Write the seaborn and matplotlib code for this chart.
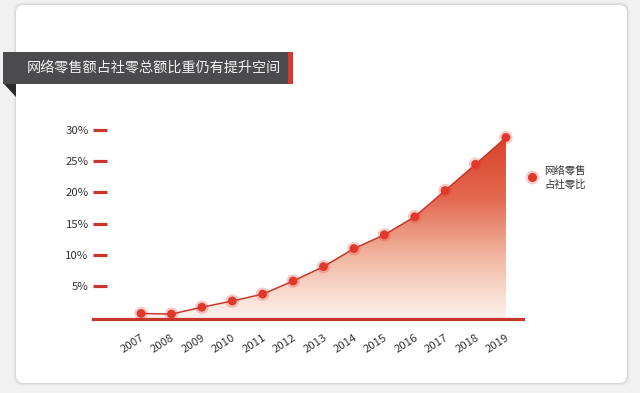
import matplotlib
matplotlib.use("Agg")
import matplotlib.pyplot as plt
import matplotlib.transforms as mtransforms
from matplotlib.patches import FancyBboxPatch, Rectangle, Polygon
from matplotlib.lines import Line2D
from matplotlib.colors import LinearSegmentedColormap
import numpy as np
import pandas as pd
import seaborn as sns

# data
years = ['2007', '2008', '2009', '2010', '2011', '2012', '2013',
         '2014', '2015', '2016', '2017', '2018', '2019']
share = [0.6, 0.5, 1.6, 2.6, 3.7, 5.8, 8.1, 11.0, 13.2, 16.1, 20.3, 24.5, 28.8]
ytick_vals = [5, 10, 15, 20, 25, 30]
ytick_labels = ['5%', '10%', '15%', '20%', '25%', '30%']
title = '网络零售额占社零总额比重仍有提升空间'
legend_label = '网络零售\n占社零比'

RED = '#e0392b'
DARK_RED = '#c9372c'
TEXT = '#333333'

sns.set_style("white")
plt.rcParams['font.family'] = ['Noto Sans CJK SC', 'DejaVu Sans']

W, H = 640, 393
fig = plt.figure(figsize=(W / 100, H / 100), dpi=100)
fig.patch.set_facecolor('#f1f1f1')
px = mtransforms.IdentityTransform()  # pixel coords, origin bottom-left

# card with soft shadow
for grow, alpha in [(3, 0.02), (2, 0.03), (1, 0.05)]:
    fig.patches.append(FancyBboxPatch(
        (16 - grow, H - 383 - grow), 611 + 2 * grow, 378 + 2 * grow,
        boxstyle="round,pad=0,rounding_size=9", transform=px,
        facecolor='#000000', edgecolor='none', alpha=alpha, zorder=-3))
fig.patches.append(FancyBboxPatch(
    (16, H - 383), 611, 378, boxstyle="round,pad=0,rounding_size=8",
    transform=px, facecolor='white', edgecolor='none', zorder=-2))

# title banner
fig.patches.append(Rectangle((3, H - 84), 286, 32, transform=px,
                             facecolor='#4b4b4d', edgecolor='none', zorder=-1))
fig.patches.append(Rectangle((288, H - 84), 5, 32, transform=px,
                             facecolor='#d9382c', edgecolor='none', zorder=-1))
fig.patches.append(Polygon([(4, H - 84), (16, H - 84), (16, H - 97)],
                           closed=True, transform=px,
                           facecolor='#2b2b2b', edgecolor='none', zorder=-1))
fig.text(27, H - 68, title, transform=px, color='#f2f2f2', fontsize=10.2,
         fontweight='medium', ha='left', va='center', zorder=3)

# main axes placed to match the reference
ax = fig.add_axes([93 / W, (H - 319) / H, 430 / W, (319 - 120) / H])
ax.set_zorder(2)
ax.set_facecolor('none')
x = np.arange(len(years))
df = pd.DataFrame({'x': x, 'share': share})

# gradient area under the line
cmap = LinearSegmentedColormap.from_list('fade', ['#fdf3ef', '#f2b9a3', '#e3684f', '#d9412c'])
poly = ax.fill_between(x, share, -0.29, facecolor='none', edgecolor='none')
grad = np.linspace(0, 1, 256).reshape(-1, 1)
img = ax.imshow(grad, cmap=cmap, aspect='auto', origin='lower',
                extent=[x[0], x[-1], -0.29, max(share)], zorder=1)
clip = Polygon(poly.get_paths()[0].vertices, closed=True, transform=ax.transData)
img.set_clip_path(clip)

sns.lineplot(data=df, x='x', y='share', color=DARK_RED, linewidth=1.1, ax=ax, zorder=3)
sns.scatterplot(data=df, x='x', y='share', color=RED, s=95, alpha=0.25,
                edgecolor='none', ax=ax, zorder=4)
sns.scatterplot(data=df, x='x', y='share', color=RED, s=40,
                edgecolor='none', ax=ax, zorder=5)

ax.set_xlim(-1.58, 12.56)
ax.set_ylim(-0.29, 31.6)

# axes styling
for side in ['top', 'right', 'left']:
    ax.spines[side].set_visible(False)
ax.spines['bottom'].set_color(DARK_RED)
ax.spines['bottom'].set_linewidth(2.3)
ax.spines['bottom'].set_zorder(6)

ax.set_yticks(ytick_vals)
ax.set_yticklabels(ytick_labels)
ax.tick_params(axis='y', left=True, direction='in', length=10, width=2.3,
               color=DARK_RED, pad=3, labelsize=8.2, labelcolor=TEXT)
ax.set_xticks(x)
ax.set_xticklabels(years)
ax.tick_params(axis='x', bottom=False, length=0, pad=10, labelsize=8.2, labelcolor=TEXT)
offset = mtransforms.ScaledTranslation(5 / 100, 0, fig.dpi_scale_trans)
for lab in ax.get_xticklabels():
    lab.set_rotation(33)
    lab.set_ha('right')
    lab.set_va('top')
    lab.set_transform(lab.get_transform() + offset)
ax.set_xlabel('')
ax.set_ylabel('')
ax.grid(False)

# legend marker and label
fig.lines.append(Line2D([532], [H - 177], transform=px, marker='o', markersize=10,
                        color=RED, alpha=0.25, linestyle='none', markeredgewidth=0))
fig.lines.append(Line2D([532], [H - 177], transform=px, marker='o', markersize=6.5,
                        color=RED, linestyle='none', markeredgewidth=0))
fig.text(544, H - 178, legend_label, transform=px, color=TEXT, fontsize=7.5,
         ha='left', va='center', linespacing=1.3)

fig.savefig('out.png', dpi=100, facecolor=fig.get_facecolor())
